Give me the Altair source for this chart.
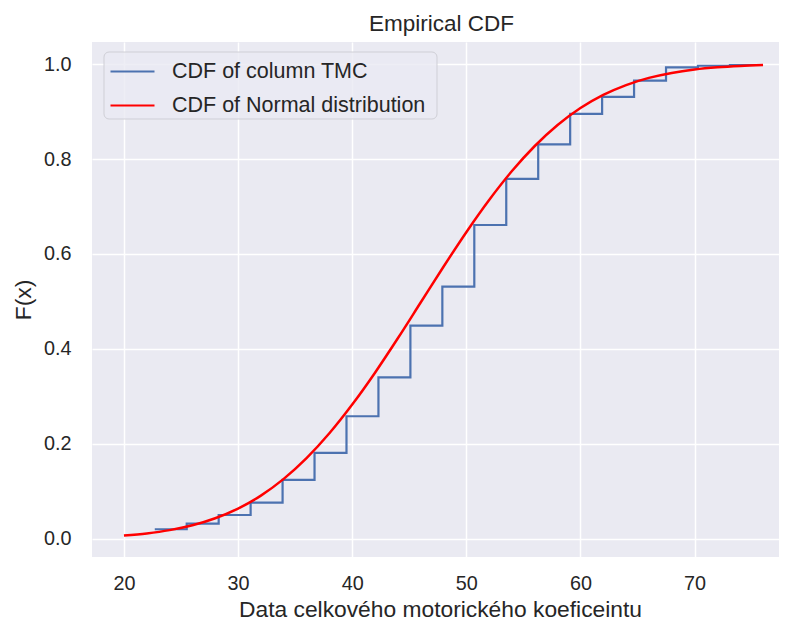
import altair as alt
import pandas as pd

# ---- data ----
series_names = ["CDF of column TMC", "CDF of Normal distribution"]
series_colors = ["#4c72b0", "#ff0000"]

# empirical CDF (step function, step-after)
step_x = [22.7, 25.5, 28.3, 31.1, 33.9, 36.7, 39.5, 42.3, 45.1, 47.9,
          50.7, 53.5, 56.3, 59.1, 61.9, 64.7, 67.5, 70.3, 73.1, 75.9]
step_f = [0.020, 0.032, 0.050, 0.076, 0.124, 0.181, 0.258, 0.340, 0.449, 0.531,
          0.661, 0.758, 0.831, 0.895, 0.931, 0.965, 0.993, 0.9965, 0.998, 1.0]

# normal CDF curve
norm_x = [20, 22, 24, 26, 28, 30, 32, 34, 36, 38, 40, 42, 44, 46, 48,
          50, 52, 54, 56, 58, 60, 62, 64, 66, 68, 70, 72, 74, 76]
norm_f = [0.0067, 0.0112, 0.0181, 0.0284, 0.0432, 0.0636, 0.0909, 0.1261, 0.1698,
          0.2221, 0.2826, 0.3498, 0.4223, 0.4976, 0.5730, 0.6458, 0.7136, 0.7746,
          0.8274, 0.8716, 0.9073, 0.9350, 0.9558, 0.9709, 0.9814, 0.9885, 0.9931,
          0.9960, 0.9978]

x_ticks = [20, 30, 40, 50, 60, 70]
y_ticks = [0.0, 0.2, 0.4, 0.6, 0.8, 1.0]

step_df = pd.DataFrame({"x": step_x, "F": step_f, "series": series_names[0]})
norm_df = pd.DataFrame({"x": norm_x, "F": norm_f, "series": series_names[1]})

FONT = "Liberation Sans"
TXT = "#262626"

color = alt.Color(
    "series:N",
    scale=alt.Scale(domain=series_names, range=series_colors),
    legend=alt.Legend(
        title=None, orient="none", legendX=17, legendY=6,
        symbolType="stroke", symbolSize=1936, symbolStrokeWidth=2.2,
        labelFont=FONT, labelFontSize=21.5, labelColor=TXT, labelLimit=500,
        labelOffset=16, rowPadding=-7.5, padding=0,
    ),
)

x = alt.X(
    "x:Q",
    scale=alt.Scale(domain=[17.2, 77.4], nice=False, zero=False),
    axis=alt.Axis(values=x_ticks, format="d", title="Data celkového motorického koeficeintu",
                  labelPadding=16, titleX=348, titleY=59, titleAlign="center",
                  titleBaseline="alphabetic"),
)
y = alt.Y(
    "F:Q",
    scale=alt.Scale(domain=[-0.0385, 1.0465], nice=False, zero=False),
    axis=alt.Axis(values=y_ticks, format=".1f", title="F(x)",
                  labelPadding=21, titleX=-69, titleY=257.5, titleAngle=-90,
                  titleAlign="center", titleBaseline="middle"),
)

step = alt.Chart(step_df).mark_line(interpolate="step-after", strokeWidth=2.2).encode(
    x=x, y=y, color=color)
norm = alt.Chart(norm_df).mark_line(interpolate="monotone", strokeWidth=2.5).encode(
    x=x, y=y, color=color)

# legend frame (decoration behind the legend entries)
frame = alt.Chart(pd.DataFrame({"k": [0]})).mark_rect(
    fill="rgba(234,234,242,0.8)", stroke="#cfcfd6", strokeWidth=1, cornerRadius=5
).encode(x=alt.value(12), x2=alt.value(345), y=alt.value(10), y2=alt.value(77))

chart = (
    alt.layer(step, norm, frame)
    .properties(
        width=687, height=515,
        title=alt.TitleParams("Empirical CDF", font=FONT, fontSize=22.5, fontWeight="normal",
                              color=TXT, offset=-11, baseline="alphabetic", anchor="middle",
                              frame="group", dx=6),
        autosize=alt.AutoSizeParams(type="none"),
        padding={"left": 84, "top": 34, "right": 0, "bottom": 63},
    )
    .configure_view(fill="#eaeaf2", stroke=None)
    .configure_axis(
        grid=True, gridColor="white", gridWidth=1.5, domain=False, ticks=False,
        labelFont=FONT, labelFontSize=19.8, labelColor=TXT,
        titleFont=FONT, titleFontSize=22.8, titleColor=TXT, titleFontWeight="normal",
    )
)

chart.save("out.html", embed_options={"renderer": "svg", "actions": False})
